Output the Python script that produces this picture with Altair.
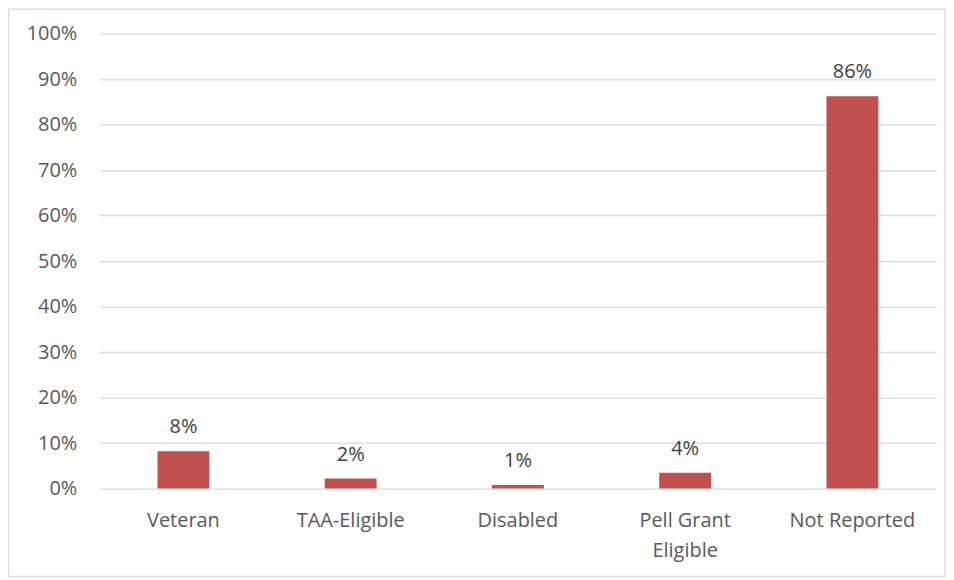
import altair as alt
import pandas as pd

categories = ["Veteran", "TAA-Eligible", "Disabled", "Pell Grant Eligible", "Not Reported"]
values = [0.082, 0.022, 0.008, 0.035, 0.862]
labels = ["8%", "2%", "1%", "4%", "86%"]

df = pd.DataFrame({"cat": categories, "val": values, "lab": labels})

FONT = "Open Sans"

x = alt.X("cat:N", sort=categories, title=None,
          scale=alt.Scale(paddingInner=0.69, paddingOuter=0.345),
          axis=alt.Axis(labelAngle=0, domain=False, ticks=False, labelPadding=22,
                        labelFontSize=20, labelColor="#595959", labelFont=FONT,
                        labelLineHeight=30,
                        labelExpr="datum.label == 'Pell Grant Eligible' ? ['Pell Grant', 'Eligible'] : datum.label"))
y = alt.Y("val:Q", title=None,
          scale=alt.Scale(domain=[0, 1], nice=False),
          axis=alt.Axis(format=".0%", values=[i / 10 for i in range(11)], domain=False, ticks=False,
                        labelPadding=23, labelFontSize=20, labelColor="#595959", labelFont=FONT,
                        gridColor="#d9d9d9", gridWidth=1.3))

bars = alt.Chart(df).mark_bar(color="#c0504d").encode(x=x, y=y)
text = alt.Chart(df).mark_text(dy=-18, fontSize=20, color="#404040", font=FONT, baseline="alphabetic").encode(
    x=alt.X("cat:N", sort=categories), y="val:Q", text="lab:N")

border = alt.Chart(pd.DataFrame({"a": [0]})).mark_rect(fill=None, stroke="#d9d9d9", strokeWidth=1.3).encode(
    x=alt.value(-91.5), x2=alt.value(847), y=alt.value(-24.5), y2=alt.value(544))

chart = alt.layer(border, bars, text).properties(
    width=838, height=456,
    autosize=alt.AutoSizeParams(type="none"),
    padding={"left": 92, "top": 25, "right": 10, "bottom": 91},
    background="white",
).configure_view(stroke=None)

chart.save("out.html", embed_options={"renderer": "svg", "actions": False})
